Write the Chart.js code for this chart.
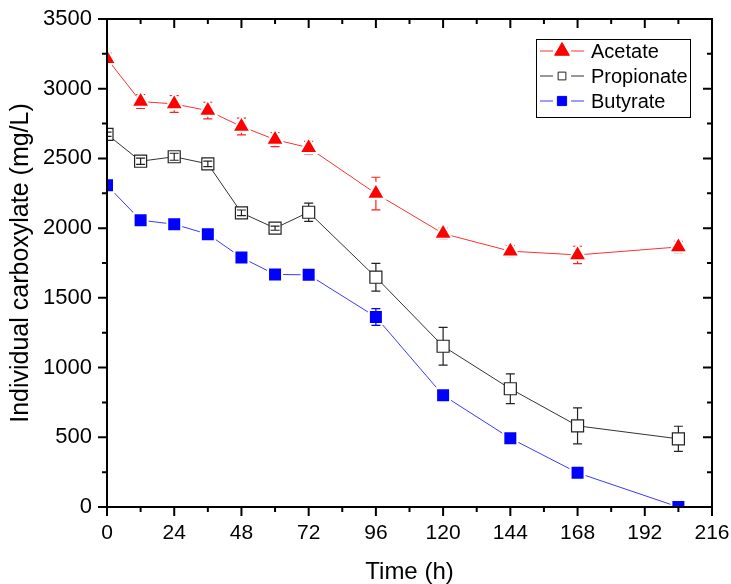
<!DOCTYPE html>
<html>

<head>
    <title>Individual carboxylate</title>
    <style>
        body { margin: 0; background: #fff; }
        #wrap { width: 731px; height: 584px; }
    </style>
</head>

<body>
    <div id="wrap">
        <canvas id="lineChart" width="731" height="584"></canvas>
    </div>

    <script src="https://cdn.jsdelivr.net/npm/chart.js"></script>
    <script>
        // sampling times (h)
        const times = [0, 12, 24, 36, 48, 60, 72, 96, 120, 144, 168, 204];

        // concentrations (mg/L) and standard deviations
        const acetate = [3215, 2908, 2891, 2843, 2729, 2635, 2577, 2248, 1961, 1835, 1808, 1865];
        const acetateErr = [40, 50, 60, 60, 60, 50, 45, 117, 40, 40, 62, 40];
        const propionate = [2673, 2480, 2512, 2461, 2110, 2000, 2114, 1648, 1153, 848, 582, 489];
        const propionateErr = [15, 22, 25, 20, 20, 15, 65, 100, 136, 107, 129, 90];
        const butyrate = [2307, 2057, 2028, 1957, 1789, 1668, 1665, 1363, 801, 493, 245, 0];
        const butyrateErr = [10, 15, 15, 15, 15, 15, 20, 60, 20, 20, 25, 10];

        const xMax = 216, xStep = 24, xMinor = 12;
        const yMax = 3500, yStep = 500, yMinor = 250;

        const FONT = "'Liberation Sans', Arial, sans-serif";

        const toPoints = (vals) => vals.map((v, i) => ({ x: times[i], y: v }));

        function drawErrors(chart, below) {
            const ctx = chart.ctx;
            const xs = chart.scales.x, ys = chart.scales.y;
            const area = chart.chartArea;
            ctx.save();
            ctx.beginPath();
            ctx.rect(area.left, area.top, area.right - area.left, area.bottom - area.top);
            ctx.clip();
            chart.data.datasets.forEach((ds) => {
                if (!!ds.errBelow !== below) return;
                ctx.strokeStyle = ds.errColor;
                ctx.lineWidth = 1.2;
                ds.data.forEach((p, i) => {
                    const e = ds.errors[i];
                    const px = xs.getPixelForValue(p.x);
                    const py = ys.getPixelForValue(p.y);
                    const hi = ys.getPixelForValue(p.y + e);
                    const lo = ys.getPixelForValue(p.y - e);
                    const gap = ds.errGap;
                    ctx.beginPath();
                    // stem starts at the marker edge unless the bar is shorter than the marker
                    ctx.moveTo(px, py - hi > gap ? py - gap : py);
                    ctx.lineTo(px, hi);
                    ctx.moveTo(px, lo - py > gap ? py + gap : py);
                    ctx.lineTo(px, lo);
                    ctx.moveTo(px - 4.5, hi); ctx.lineTo(px + 4.5, hi);
                    ctx.moveTo(px - 4.5, lo); ctx.lineTo(px + 4.5, lo);
                    ctx.stroke();
                });
            });
            ctx.restore();
        }

        const errorBars = {
            id: 'errorBars',
            beforeDatasetsDraw(chart) { drawErrors(chart, true); },
            afterDatasetsDraw(chart) { drawErrors(chart, false); }
        };

        // box frame with ticks on all four sides (out on bottom/left, in on top/right)
        const frame = {
            id: 'frame',
            afterDraw(chart) {
                const ctx = chart.ctx;
                const xs = chart.scales.x, ys = chart.scales.y;
                const { left, right, top, bottom } = chart.chartArea;
                ctx.save();
                ctx.strokeStyle = '#000';
                ctx.lineWidth = 2;
                ctx.strokeRect(left, top, right - left, bottom - top);
                ctx.beginPath();
                for (let t = 0; t <= xMax; t += xMinor) {
                    const px = xs.getPixelForValue(t);
                    const len = t % xStep === 0 ? 9 : 5;
                    ctx.moveTo(px, bottom); ctx.lineTo(px, bottom + len);
                    ctx.moveTo(px, top); ctx.lineTo(px, top + len);
                }
                for (let v = 0; v <= yMax; v += yMinor) {
                    const py = ys.getPixelForValue(v);
                    const len = v % yStep === 0 ? 9 : 5;
                    ctx.moveTo(left - len, py); ctx.lineTo(left, py);
                    ctx.moveTo(right - len, py); ctx.lineTo(right, py);
                }
                ctx.stroke();
                ctx.restore();
            }
        };

        // legend box inside the plot, upper right
        const boxLegend = {
            id: 'boxLegend',
            afterDraw(chart) {
                const ctx = chart.ctx;
                const bx = 536, by = 39, bw = 154, bh = 78;
                ctx.save();
                ctx.fillStyle = '#fff';
                ctx.fillRect(bx, by, bw, bh);
                ctx.strokeStyle = '#000';
                ctx.lineWidth = 1;
                ctx.strokeRect(bx + 0.5, by + 0.5, bw, bh);
                chart.data.datasets.forEach((ds, i) => {
                    const cy = 51 + i * 25;
                    const mx = 562;
                    ctx.strokeStyle = ds.borderColor;
                    ctx.lineWidth = 1;
                    ctx.beginPath();
                    ctx.moveTo(540, cy); ctx.lineTo(mx - 9, cy);
                    ctx.moveTo(mx + 9, cy); ctx.lineTo(584, cy);
                    ctx.stroke();
                    ctx.fillStyle = ds.pointBackgroundColor;
                    ctx.strokeStyle = ds.legendBorder;
                    Chart.helpers.drawPoint(ctx, {
                        pointStyle: ds.pointStyle,
                        radius: ds.legendRadius,
                        borderWidth: 1,
                        rotation: 0
                    }, mx, cy);
                    ctx.fillStyle = '#000';
                    ctx.font = '20px ' + FONT;
                    ctx.textBaseline = 'middle';
                    ctx.fillText(ds.label, 591, cy + 1);
                });
                ctx.restore();
            }
        };

        const chart = new Chart(document.getElementById('lineChart'), {
            type: 'line',
            data: {
                datasets: [
                    {
                        label: 'Acetate',
                        data: toPoints(acetate),
                        errors: acetateErr,
                        errBelow: true,
                        errColor: '#ff2020',
                        errGap: 0,
                        borderColor: '#ff3030',
                        borderWidth: 1,
                        pointStyle: 'triangle',
                        pointRadius: 10.5,
                        pointBackgroundColor: '#ff0000',
                        pointBorderColor: '#fff',
                        pointBorderWidth: 2,
                        legendBorder: '#ff0000',
                        legendRadius: 8.5,
                        tension: 0
                    },
                    {
                        label: 'Propionate',
                        data: toPoints(propionate),
                        errors: propionateErr,
                        errColor: '#222',
                        errGap: 6,
                        borderColor: '#333',
                        borderWidth: 1,
                        pointStyle: 'rect',
                        pointRadius: 8.5,
                        pointBackgroundColor: '#fff',
                        pointBorderColor: '#222',
                        pointBorderWidth: 1.2,
                        legendBorder: '#222',
                        legendRadius: 5.5,
                        tension: 0
                    },
                    {
                        label: 'Butyrate',
                        data: toPoints(butyrate),
                        errors: butyrateErr,
                        errColor: '#0000ff',
                        errGap: 6,
                        borderColor: '#3a3aff',
                        borderWidth: 1,
                        pointStyle: 'rect',
                        pointRadius: 9.9,
                        pointBackgroundColor: '#0000ff',
                        pointBorderColor: '#fff',
                        pointBorderWidth: 2,
                        legendBorder: '#0000ff',
                        legendRadius: 6.5,
                        tension: 0
                    }
                ]
            },
            options: {
                responsive: false,
                animation: false,
                layout: { padding: { top: 19, right: 19, left: 0, bottom: 0 } },
                plugins: {
                    legend: { display: false },
                    tooltip: { enabled: false }
                },
                scales: {
                    x: {
                        type: 'linear',
                        min: 0,
                        max: xMax,
                        grid: { display: false },
                        border: { display: false },
                        ticks: {
                            stepSize: xStep,
                            maxRotation: 0,
                            autoSkip: false,
                            padding: 6,
                            color: '#000',
                            font: { family: FONT, size: 21 }
                        },
                        title: {
                            display: true,
                            text: 'Time (h)',
                            color: '#000',
                            font: { family: FONT, size: 24, lineHeight: 1 },
                            padding: { top: 0, bottom: 0 }
                        },
                        afterFit(scale) {
                            scale.height = 77;
                            scale.paddingLeft = 0;
                            scale.paddingRight = 0;
                        }
                    },
                    y: {
                        min: 0,
                        max: yMax,
                        grid: { display: false },
                        border: { display: false },
                        ticks: {
                            stepSize: yStep,
                            padding: 7,
                            color: '#000',
                            font: { family: FONT, size: 22 },
                            callback: (v) => String(v)
                        },
                        title: {
                            display: true,
                            text: 'Individual carboxylate (mg/L)',
                            color: '#000',
                            font: { family: FONT, size: 25, lineHeight: 1 },
                            padding: { top: 9, bottom: 0 }
                        },
                        afterFit(scale) {
                            scale.width = 107;
                            scale.paddingTop = 0;
                            scale.paddingBottom = 0;
                        }
                    }
                }
            },
            plugins: [errorBars, frame, boxLegend]
        });
    </script>
</body>

</html>
